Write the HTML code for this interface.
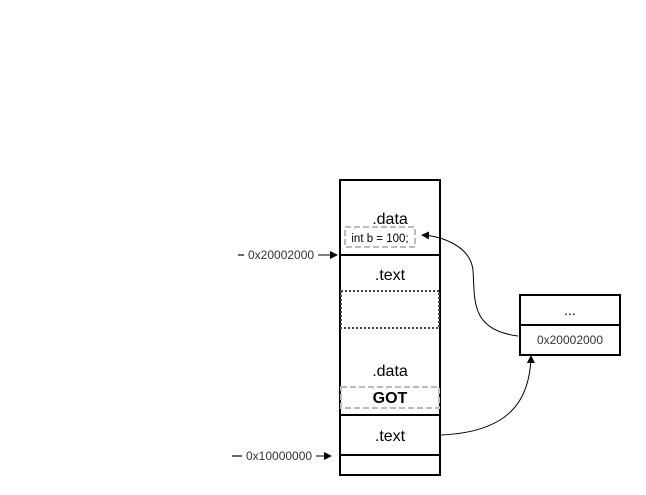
<!DOCTYPE html>
<html><head><meta charset="utf-8"><style>
html,body{margin:0;padding:0;background:#fff;}
svg{display:block;font-family:"Liberation Sans",Arial,sans-serif;}
</style></head><body>
<svg width="646" height="495" viewBox="0 0 646 495" xmlns="http://www.w3.org/2000/svg">
<defs><marker id="a" markerWidth="8" markerHeight="8" refX="7" refY="4" orient="auto" markerUnits="userSpaceOnUse"><path d="M0,0 L8,4 L0,8 z" fill="#000"/></marker></defs>
<rect x="340" y="180" width="100" height="295" fill="#fff" stroke="#000" stroke-width="2"/>
<line x1="340" y1="255" x2="440" y2="255" stroke="#000" stroke-width="2"/>
<line x1="340" y1="415" x2="440" y2="415" stroke="#000" stroke-width="2"/>
<line x1="340" y1="455" x2="440" y2="455" stroke="#000" stroke-width="2"/>
<rect x="341" y="291" width="98" height="37" fill="#fff" stroke="#444" stroke-width="2" stroke-dasharray="2,2"/>
<rect x="345" y="227" width="70" height="20" fill="#fff" stroke="#bbb" stroke-width="2" stroke-dasharray="6,3"/>
<rect x="341" y="387" width="98" height="21" fill="#fff" stroke="#bbb" stroke-width="2" stroke-dasharray="6,3"/>
<text x="390" y="224" font-size="16" text-anchor="middle">.data</text>
<text x="380" y="242" font-size="11.5" text-anchor="middle">int b = 100;</text>
<text x="390" y="280" font-size="16" text-anchor="middle">.text</text>
<text x="390" y="376" font-size="16" text-anchor="middle">.data</text>
<text x="390" y="403" font-size="16" font-weight="bold" text-anchor="middle">GOT</text>
<text x="390" y="441" font-size="16" text-anchor="middle">.text</text>
<rect x="520" y="295" width="100" height="60" fill="#fff" stroke="#000" stroke-width="2"/>
<line x1="520" y1="325" x2="620" y2="325" stroke="#000" stroke-width="2"/>
<text x="570" y="315" font-size="14" text-anchor="middle">...</text>
<text x="570" y="344" font-size="12" text-anchor="middle" fill="#333">0x20002000</text>
<line x1="238" y1="255" x2="244" y2="255" stroke="#333" stroke-width="1.5"/>
<text x="248" y="259" font-size="12" fill="#333">0x20002000</text>
<line x1="318" y1="255" x2="337" y2="255" stroke="#000" stroke-width="1" marker-end="url(#a)"/>
<line x1="232" y1="456" x2="242" y2="456" stroke="#333" stroke-width="1.5"/>
<text x="246" y="460" font-size="12" fill="#333">0x10000000</text>
<line x1="316" y1="456" x2="331" y2="456" stroke="#000" stroke-width="1" marker-end="url(#a)"/>
<path d="M518,336 C470,330 475,300 473,270 C470,245 440,236 422,235" fill="none" stroke="#000" stroke-width="1" marker-end="url(#a)"/>
<path d="M441,435 C510,432 530,400 531,356" fill="none" stroke="#000" stroke-width="1" marker-end="url(#a)"/>
</svg>
</body></html>
